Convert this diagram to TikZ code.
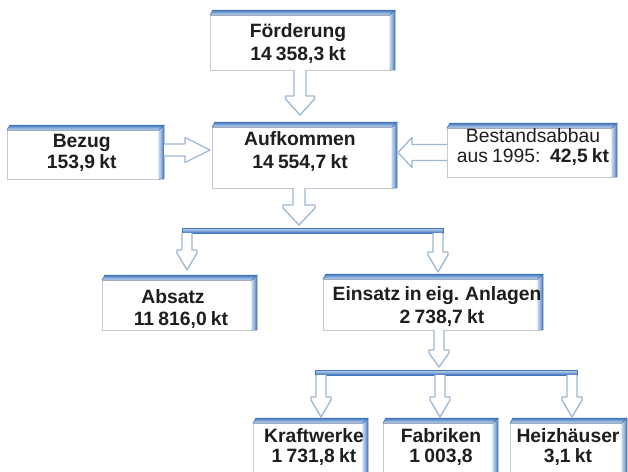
\documentclass[tikz,border=0pt]{standalone}
\usepackage{fontspec}
\setmainfont{Liberation Sans}
\usetikzlibrary{calc}
\definecolor{bandd}{HTML}{3F74BC}
\definecolor{bandl}{HTML}{C9DDF2}
\definecolor{edgec}{HTML}{C4C8D0}
\definecolor{arrc}{HTML}{9DB8D6}
\definecolor{txtc}{HTML}{1E1E1E}
\newcommand\tightsp{\spaceskip=0.22em\relax}
\tikzset{
  boxbody/.style={draw=edgec, line width=0.8pt, fill=white, outer sep=0pt, inner sep=0pt},
  topface/.style={top color=bandd, bottom color=bandl, draw=bandd, line width=0.4pt},
  sideface/.style={left color=bandl, right color=bandd, draw=bandd, line width=0.4pt},
  barstyle/.style={top color=bandl, bottom color=bandd, draw=bandd, line width=0.4pt, outer sep=0pt, inner sep=0pt},
  blk/.style={draw=arrc, line width=1.3pt, fill=white, line join=round},
  tx/.style={font=\bfseries\fontsize{19.3}{#1}\selectfont\tightsp, text=txtc, align=center, inner sep=0pt},
  tx/.default=22
}
% box: name, x1, y1, x2, y2 (pixels, y downwards), body only
\newcommand\mkbox[5]{%
  \node[boxbody, minimum width={#4-#2}, minimum height={#5-#3}] (#1) at ({(#2+#4)/2},{-(#3+#5)/2}) {};
  \filldraw[topface] (#1.north west) -- ++(3,5) -- ($(#1.north east)+(5,5)$) -- (#1.north east) -- cycle;
  \filldraw[sideface] (#1.north east) -- ($(#1.north east)+(5,5)$) -- ($(#1.south east)+(5,0)$) -- (#1.south east) -- cycle;
}
% vertical block arrow: start, end(y), shaft half, head half, head length
\newcommand\varr[5]{%
  \draw[blk] let \p1=(#1), \p2=(#2) in
   ({\x1-#3pt},{\y1}) -- ({\x1-#3pt},{\y2+#5pt}) -- ({\x1-#4pt},{\y2+#5pt}) -- ({\x1-#4pt},{\y2+#5pt-3pt}) -- ({\x1},{\y2})
   -- ({\x1+#4pt},{\y2+#5pt-3pt}) -- ({\x1+#4pt},{\y2+#5pt}) -- ({\x1+#3pt},{\y2+#5pt}) -- ({\x1+#3pt},{\y1});
}
% horizontal block arrow: start, end(x), shaft half, head half, signed head length
\newcommand\harr[5]{%
  \draw[blk] let \p1=(#1), \p2=(#2) in
   ({\x1},{\y1+#3pt}) -- ({\x2-(#5pt)},{\y1+#3pt}) -- ({\x2-(#5pt)},{\y1+#4pt}) -- ({\x2},{\y1})
   -- ({\x2-(#5pt)},{\y1-#4pt}) -- ({\x2-(#5pt)},{\y1-#3pt}) -- ({\x1},{\y1-#3pt});
}
\begin{document}
\begin{tikzpicture}[x=1pt,y=1pt]
\useasboundingbox (0,0) rectangle (628,-471);
\fill[white] (0,0) rectangle (628,-471);

% boxes
\mkbox{F}{210}{15}{390}{70}
\mkbox{A}{212}{127}{392}{188}
\mkbox{B}{7}{130}{159}{179}
\mkbox{S}{447}{128}{612}{177}
\mkbox{Ab}{102}{280}{252}{330}
\mkbox{E}{323}{279}{538}{330}
\mkbox{K}{253}{423}{363}{480}
\mkbox{Fa}{383}{423}{493}{480}
\mkbox{H}{510}{423}{622}{480}

% bars
\node[barstyle, minimum width=261, minimum height=5] (bar1) at (312.5,-230.5) {};
\node[barstyle, minimum width=262, minimum height=5] (bar2) at (446,-372.5) {};

% texts
\node[tx=23] (Ft) at (298,-43.5) {Förderung\\14 358,3 kt};
\node[tx=23] (At) at (300,-151.5) {Aufkommen\\14 554,7 kt};
\node[tx=21] (Bt) at (81.7,-152.5) {Bezug\\153,9 kt};
\node[tx=20] (St) at (533,-147) {\mdseries Bestandsabbau\\{\mdseries aus 1995:}\enspace 42,5 kt};
\node[tx=22] (Abt) at (181,-309) {Absatz\rule{16pt}{0pt}\\11 816,0 kt};
\node[tx=23] (Et) at (437,-306.5) {Einsatz in eig. Anlagen\\\rule{10pt}{0pt}2 738,7 kt};
\node[tx=20] (Kt) at (314,-447) {Kraftwerke\\1 731,8 kt};
\node[tx=20] (Fat) at (441,-447) {Fabriken\\1 003,8};
\node[tx=20] (Ht) at (568,-447) {Heizhäuser\\3,1 kt};

% arrows
\varr{F.south}{$(A.north)+(0,12)$}{6}{14.5}{19}
\varr{$(A.south)+(-3,0)$}{$(bar1.north)+(0,3)$}{6}{16}{20}
\harr{$(B.east)+(5,4.5)$}{$(A.west)+(-2,0)$}{6}{12.5}{25}
\harr{S.west}{$(A.east)+(6,0)$}{8}{15}{-14}
\varr{$(bar1.south west)+(5,0)$}{$(Ab.north)+(0,10)$}{5}{10}{20}
\varr{$(bar1.south east)+(-5,0)$}{$(E.north)+(0,7)$}{5}{10}{20}
\varr{$(E.south)+(8.5,0)$}{$(bar2.north)+(0,3)$}{5}{10}{17}
\varr{$(bar2.south west)+(6,0)$}{$(K.north)+(0,6)$}{5}{10}{20}
\varr{$(bar2.south)+(-6,0)$}{$(Fa.north)+(0,6)$}{5}{10}{20}
\varr{$(bar2.south east)+(-5,0)$}{$(H.north)+(0,6)$}{5}{10}{20}
\end{tikzpicture}
\end{document}
